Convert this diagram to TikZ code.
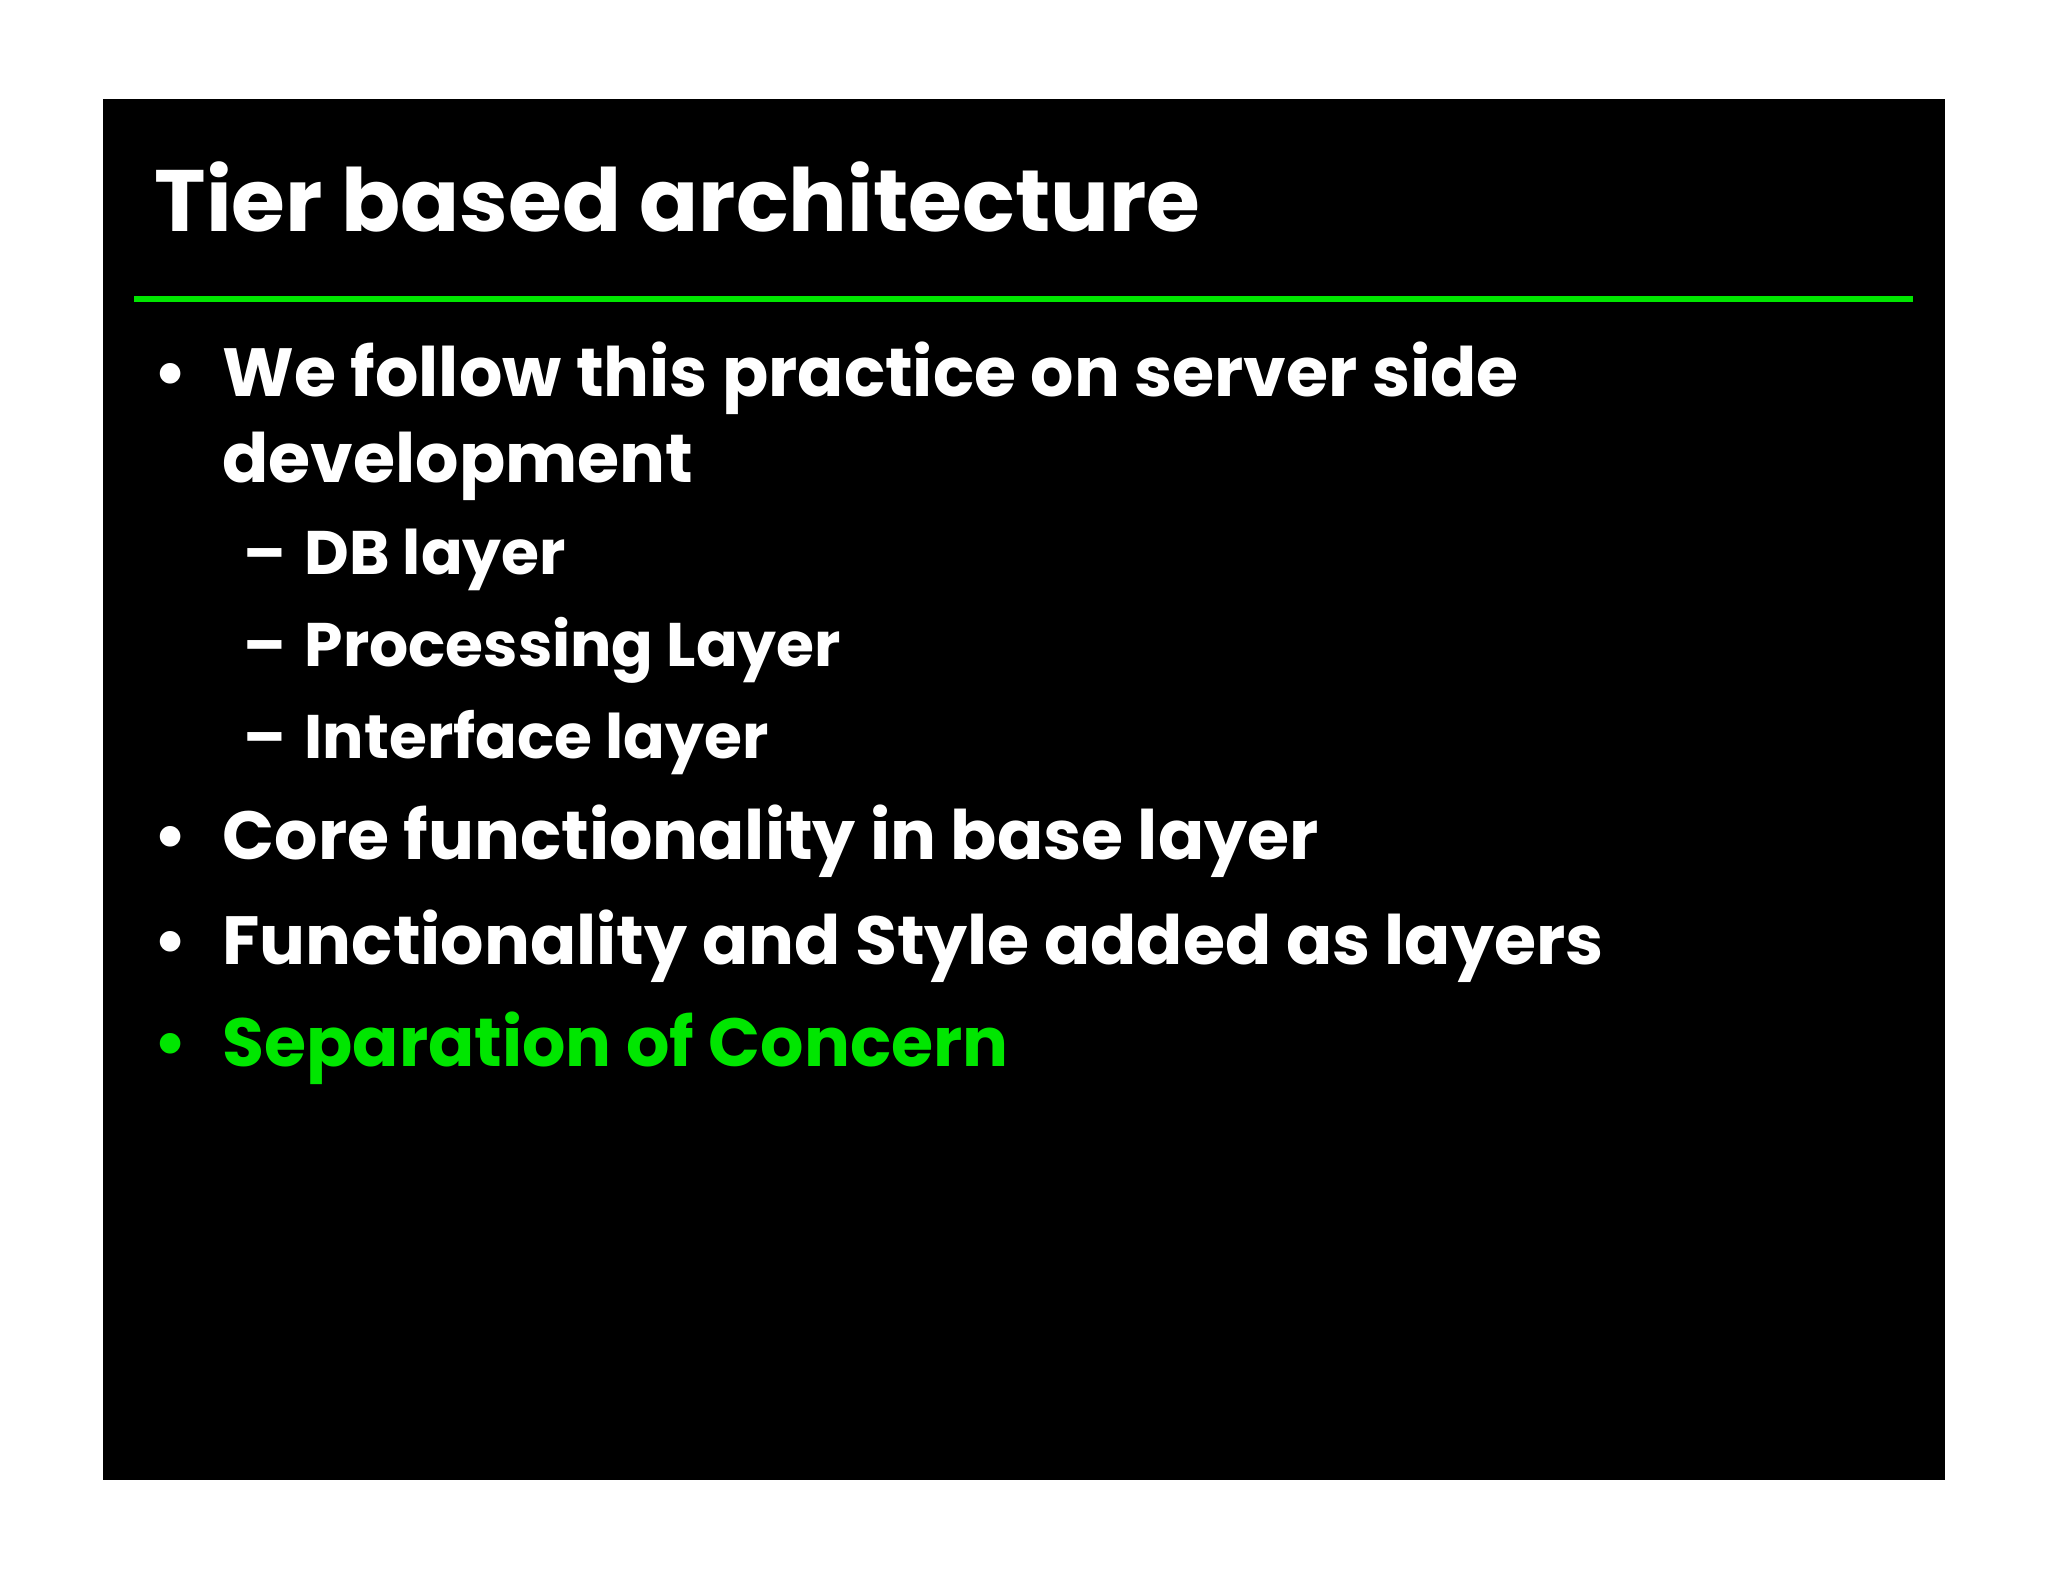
\documentclass[tikz,border=0pt]{standalone}
\usepackage{fontspec}
\setmainfont{Poppins}
\definecolor{slidegreen}{RGB}{0,230,0}
\tikzstyle{title}=[anchor=base west,text=white,font=\fontsize{24.8}{28}\selectfont\bfseries,inner sep=0pt]
\tikzstyle{item}=[anchor=base west,text=white,font=\fontsize{19.4}{23}\selectfont\bfseries,inner sep=0pt]
\tikzstyle{subitem}=[anchor=base west,text=white,font=\fontsize{17.5}{21}\selectfont\bfseries,inner sep=0pt]
\begin{document}
\begin{tikzpicture}[y=-1cm]
    \useasboundingbox (0,0) rectangle (20.48,15.82);
    \fill[white] (0,0) rectangle (20.48,15.82);
    \fill[black] (1.03,0.99) rectangle (19.45,14.80);
    \draw[slidegreen, line width=1.5pt] (1.34,2.99) -- (19.13,2.99);

    \node[title] (head) at (1.54,2.32) {Tier based architecture};

    \foreach \y/\name/\txt in {3.96/a/{We follow this practice on server side}, 4.83/b/development,
        8.59/c/{Core functionality in base layer}, 9.64/d/{Functionality and Style added as layers}}
        \node[item] (\name) at (2.22,\y) {\txt};
    \foreach \y/\name in {3.96/ba, 8.59/bc, 9.64/bd}
        \node[item] (\name) at (1.53,\y) {•};
    \node[item, text=slidegreen] (e) at (2.22,10.67) {Separation of Concern};
    \node[item, text=slidegreen] (be) at (1.53,10.67) {•};

    \foreach \y/\name/\txt in {5.75/db/{DB layer}, 6.67/proc/{Processing Layer}, 7.59/intf/{Interface layer}}
    {
        \node[subitem] (\name) at (3.04,\y) {\txt};
        \node[subitem] (d\name) at (2.43,\y) {–};
    }
\end{tikzpicture}
\end{document}
